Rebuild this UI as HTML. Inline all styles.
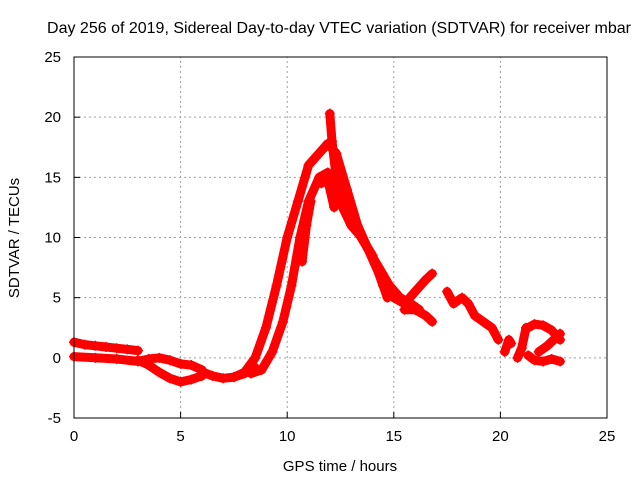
<!DOCTYPE html>
<html><head><meta charset="utf-8"><style>
body{margin:0;background:#fff}
svg{display:block;font-family:"Liberation Sans",sans-serif}
</style></head><body>
<svg id="chart" width="640" height="480" viewBox="0 0 640 480">
<text x="339" y="33" text-anchor="middle" font-size="16" fill="#000">Day 256 of 2019, Sidereal Day-to-day VTEC variation (SDTVAR) for receiver mbar</text>
<g id="grid"></g>
<g id="ticks"></g>
<g id="series"></g>
<rect x="74" y="57" width="533" height="361" fill="none" stroke="#000" stroke-width="1"/>
<text x="340" y="471" text-anchor="middle" font-size="15">GPS time / hours</text>
<text transform="translate(19,238) rotate(-90)" text-anchor="middle" font-size="15">SDTVAR / TECUs</text>
</svg>
<script>
const xTicks=[0,5,10,15,20,25];
const yTicks=[-5,0,5,10,15,20,25];
const trackTimes=[
[0,0.5,1,1.5,2,2.5,3],
[0,1,2,3,3.5,4,4.5,5,5.5,6],
[3,3.5,4,4.5,5,5.5,6],
[6.2,6.5,7,7.5,8,8.5],
[7.5,8,8.5,9,9.5,10,10.5,11,11.5,11.9,12.3,12.8,13.3,13.8,14.3,14.7],
[8.3,8.8,9.3,9.8,10.2,10.6,11,11.5,11.9,12.3,12.8,13.3,13.8,14.3,14.8,15.3,15.8,16.2],
[11.6,11.9,12.2],
[10.7,10.9,11.1],
[12,12.1,12.3,12.6,13,13.5,14,14.5],
[15,15.5,16,16.5,16.8],
[15.5,16,16.5,16.8],
[17.5,17.8,18.2,18.5,18.8,19.2,19.6,19.9],
[20.2,20.4,20.5],
[20.8,21,21.2],
[21.3,21.6,22,22.4,22.8],
[21.3,21.6,22,22.4,22.8],
[21.8,22.2,22.8]
];
const trackValues=[
[1.3,1.1,1.0,0.9,0.8,0.7,0.6],
[0.1,0,-0.1,-0.3,-0.1,0,-0.2,-0.5,-0.6,-1.0],
[-0.2,-0.6,-1.2,-1.7,-2.0,-1.8,-1.5],
[-1.3,-1.5,-1.7,-1.6,-1.3,-0.8],
[-1.6,-1.2,0,2.5,6,10,13,16,17,17.8,17,14,11,9,7,5],
[-1.3,-1,0.5,3,6,10,13,15,15.4,14.8,12.5,10.5,9,7.5,6,5,4.5,4],
[14.5,14.8,12.5],
[8,11,13],
[20.3,18,15,12.5,11,10,8.5,6],
[5,4.5,5.5,6.5,7],
[4,4,3.5,3],
[5.5,4.5,5,4.5,3.5,3,2.5,1.5],
[0.5,1.5,1.2],
[0,0.8,2.5],
[2.5,2.8,2.7,2.3,1.5],
[0.2,-0.2,-0.3,-0.1,-0.3],
[0.5,1.0,2]
];
const NS="http://www.w3.org/2000/svg";
const X0=74,X1=607,Y0=418,Y1=57,xMin=0,xMax=25,yMin=-5,yMax=25;
function sx(v){return X0+(v-xMin)/(xMax-xMin)*(X1-X0);}
function sy(v){return Y0-(v-yMin)/(yMax-yMin)*(Y0-Y1);}
function mk(tag,attrs,parent){const e=document.createElementNS(NS,tag);for(const k in attrs)e.setAttribute(k,attrs[k]);parent.appendChild(e);return e;}
const grid=document.getElementById('grid'),ticks=document.getElementById('ticks'),series=document.getElementById('series');
xTicks.forEach(t=>{
  const x=sx(t);
  if(t>xMin&&t<xMax){const l=mk('line',{x1:x,x2:x,y1:Y0,y2:Y1,stroke:'#a0a0a0','stroke-dasharray':'2,3'},grid);
  
  }
  const tl=mk('line',{x1:x,x2:x,y1:Y0,y2:Y0-6,stroke:'#000'},ticks);
  
  
  const tx=mk('text',{x:x,y:Y0+23,'text-anchor':'middle','font-size':'15'},ticks);
  tx.textContent=t;
  
  
});
yTicks.forEach(t=>{
  const y=sy(t);
  if(t>yMin&&t<yMax){const l=mk('line',{x1:X0,x2:X1,y1:y,y2:y,stroke:'#a0a0a0','stroke-dasharray':'2,3'},grid);
  
  }
  const tl=mk('line',{x1:X0,x2:X0+6,y1:y,y2:y,stroke:'#000'},ticks);
  
  
  const tx=mk('text',{x:X0-13,y:y+5,'text-anchor':'end','font-size':'15'},ticks);
  tx.textContent=t;
  
  
});
trackTimes.forEach((ts,i)=>{
  const vs=trackValues[i];
  const pts=ts.map((t,j)=>sx(t).toFixed(1)+','+sy(vs[j]).toFixed(1)).join(' ');
  const pl=mk('polyline',{points:pts,fill:'none',stroke:'#ff0000','stroke-width':'9','stroke-linejoin':'round','stroke-linecap':'round'},series);
  
  
  ts.forEach((t,j)=>{
    const x=sx(t),y=sy(vs[j]);
    const p=mk('path',{d:`M${x-5},${y}H${x+5}M${x},${y-5}V${y+5}`,stroke:'#ff0000','stroke-width':'1.5'},series);
    
    
  });
});
</script>
</body></html>
